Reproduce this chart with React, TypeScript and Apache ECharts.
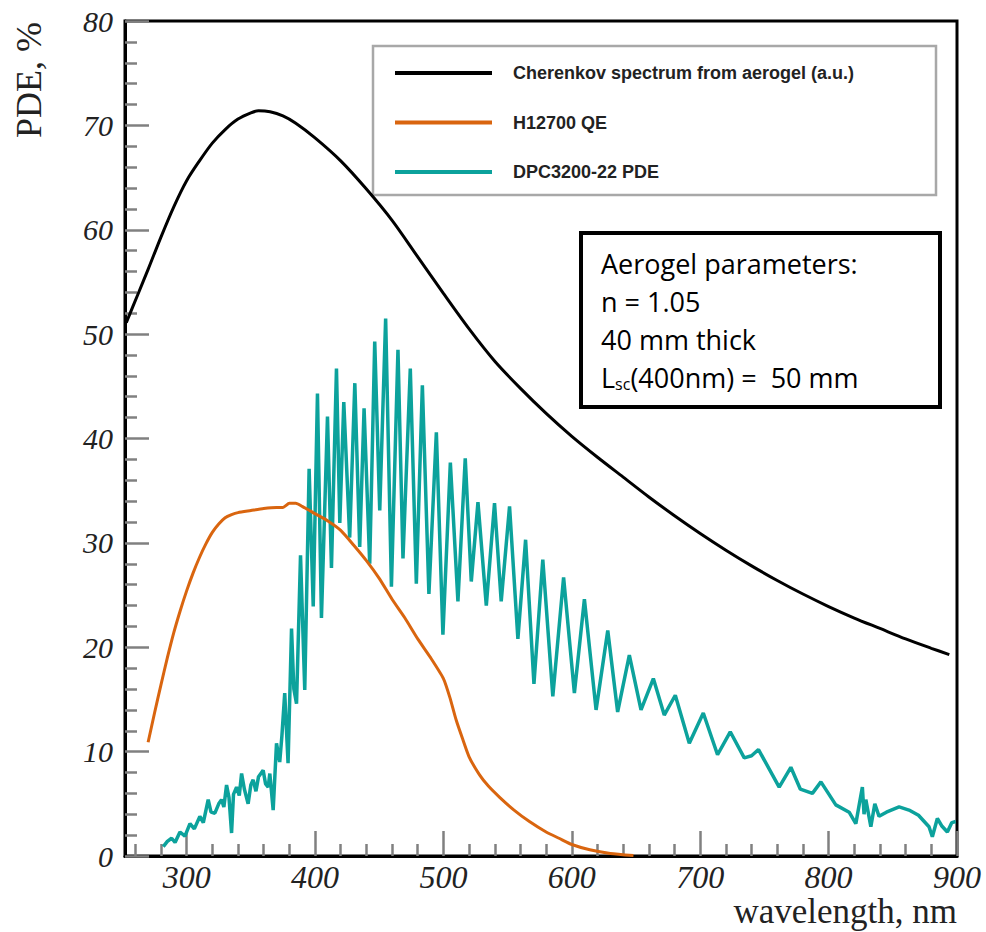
import React, { useEffect, useRef } from "react";
import * as echarts from "echarts";

// ---- axis ticks ----
const xMajor = [300, 400, 500, 600, 700, 800, 900];
const xMinor = [260, 280, 320, 340, 360, 380, 420, 440, 460, 480, 520, 540, 560, 580, 620, 640, 660, 680, 720, 740, 760, 780, 820, 840, 860, 880];

// ---- series names ----
const seriesNames = ["Cherenkov spectrum from aerogel (a.u.)", "H12700 QE", "DPC3200-22 PDE"];

// ---- Cherenkov spectrum (a.u.) ----
const cherenkovWl = [253, 262, 270, 280, 290, 300, 310, 320, 330, 340, 350, 356, 365, 375, 385, 400, 420, 440, 460, 480, 500, 520, 540, 560, 580, 600, 620, 640, 660, 680, 700, 720, 740, 760, 780, 800, 820, 840, 860, 880, 894];
const cherenkovVal = [51.1, 53.8, 56.2, 59.3, 62.2, 64.7, 66.6, 68.3, 69.6, 70.6, 71.2, 71.4, 71.3, 70.9, 70.2, 68.8, 66.6, 63.9, 60.9, 57.4, 53.9, 50.5, 47.4, 44.8, 42.4, 40.2, 38.2, 36.3, 34.4, 32.6, 30.9, 29.3, 27.8, 26.4, 25.1, 23.9, 22.8, 21.8, 20.8, 19.9, 19.3];

// ---- H12700 QE ----
const h12700Wl = [270, 275, 280, 285, 290, 295, 300, 305, 310, 315, 320, 325, 330, 335, 340, 350, 360, 370, 375, 380, 385, 390, 400, 410, 420, 430, 440, 450, 460, 470, 480, 490, 500, 505, 510, 515, 520, 528, 535, 544, 555, 567, 580, 590, 600, 614, 630, 648];
const h12700Val = [10.9, 13.7, 16.4, 19.0, 21.4, 23.5, 25.4, 27.1, 28.6, 29.9, 31.0, 31.8, 32.4, 32.7, 32.9, 33.1, 33.3, 33.4, 33.4, 33.8, 33.8, 33.5, 32.8, 32.1, 31.2, 29.8, 28.3, 26.6, 24.6, 22.8, 20.8, 19.0, 17.0, 15.2, 13.0, 11.2, 9.5, 7.8, 6.7, 5.6, 4.4, 3.3, 2.3, 1.7, 1.1, 0.6, 0.25, 0.05];

// ---- DPC3200-22 PDE ----
const dpcWl = [281.8, 285, 288.3, 291, 294.8, 298.7, 302.6, 306, 310.3, 313, 316.8, 319, 322, 325, 327.2, 329, 331.1, 333, 335, 336.5, 338.9, 341, 342.8, 345, 347.9, 350, 351.8, 354, 356, 359.6, 361.5, 363.5, 364.8, 367.4, 370, 372.5, 374.2, 376.4, 379, 381.7, 383.5, 385.6, 388.7, 392, 395.4, 398.6, 401.9, 405, 409.7, 412.8, 416.7, 419.3, 422.4, 427, 431, 434.8, 438.2, 442.6, 446.5, 450.4, 455, 459.5, 464.6, 468.5, 474.2, 478.9, 483.6, 488.7, 494.5, 499.6, 505.4, 511.3, 517, 521.7, 526.9, 533.4, 539.8, 545, 551.5, 558, 564, 570.5, 577.4, 585.2, 593.6, 602, 609.8, 618.9, 628, 635.7, 644.8, 653.9, 663.5, 672, 680.6, 691.5, 702.4, 713.5, 723.4, 734.3, 740, 745.4, 761.5, 770.6, 778, 787.4, 794, 805.6, 816, 821.2, 826.3, 827.6, 829, 832.9, 836, 839.3, 845, 854.9, 862.6, 870, 878.2, 880.8, 884.7, 888, 892.5, 896, 899];
const dpcVal = [0.9, 1.4, 1.7, 1.3, 2.3, 1.9, 3.1, 2.6, 3.8, 3.2, 5.4, 4.2, 4.1, 5.0, 5.4, 4.7, 6.8, 5.6, 2.2, 5.9, 6.6, 5.8, 7.9, 6.4, 5.0, 6.8, 7.3, 6.2, 7.6, 8.2, 6.9, 6.6, 7.9, 4.4, 10.8, 9.0, 11.5, 15.6, 8.9, 21.8, 16.0, 14.6, 28.8, 15.9, 37.1, 23.9, 44.3, 22.8, 42.1, 27.6, 46.7, 31.9, 43.5, 30.5, 45.3, 29.6, 42.9, 28.0, 49.3, 33.1, 51.5, 25.8, 48.5, 28.5, 46.7, 26.1, 45.1, 25.1, 40.6, 21.2, 37.7, 24.4, 38.1, 26.3, 33.9, 24.0, 33.8, 24.4, 33.5, 20.8, 30.3, 16.5, 28.4, 15.3, 26.7, 15.6, 24.6, 14.0, 21.6, 13.8, 19.25, 14.0, 17.0, 13.5, 15.4, 10.8, 13.7, 9.7, 11.9, 9.4, 9.6, 10.2, 6.6, 8.5, 6.4, 6.0, 7.1, 4.9, 4.2, 3.1, 6.6, 4.0, 5.4, 2.8, 5.0, 3.8, 4.2, 4.7, 4.4, 3.9, 2.8, 1.85, 3.6, 2.9, 2.3, 3.2, 3.3];

const zip = (xs: number[], ys: number[]) => xs.map((x, i) => [x, ys[i]]);

const tickColor = "#808080";

export default function App() {
  const ref = useRef<HTMLDivElement>(null);

  useEffect(() => {
    if (!ref.current) return;
    const chart = echarts.init(ref.current, null, { renderer: "svg" });
    const tickLine = { color: tickColor, width: 2.5 };
    const option: any = {
      animation: false,
      backgroundColor: "#ffffff",
      grid: { left: 125, right: 29, top: 21, bottom: 76, show: true, borderColor: "#000", borderWidth: 3, backgroundColor: "transparent" },
      xAxis: [
        {
          type: "value", min: 252, max: 900, position: "bottom",
          axisLine: { show: true, lineStyle: { color: "#000", width: 3 } },
          axisTick: { show: true, inside: true, length: 25, customValues: xMajor, lineStyle: tickLine },
          axisLabel: { customValues: xMajor, fontFamily: "Liberation Serif", fontStyle: "italic", fontSize: 32, color: "#222", margin: 5 },
          splitLine: { show: false },
        },
        {
          type: "value", min: 252, max: 900, position: "bottom",
          axisLine: { show: false },
          axisTick: { show: true, inside: true, length: 12, customValues: xMinor, lineStyle: tickLine },
          axisLabel: { show: false },
          splitLine: { show: false },
        },
      ],
      yAxis: {
        type: "value", min: 0, max: 80, interval: 10,
        axisLine: { show: true, lineStyle: { color: "#000", width: 3 } },
        axisTick: { show: true, inside: true, length: 24, lineStyle: tickLine },
        minorTick: { show: true, splitNumber: 5, length: 12, lineStyle: tickLine },
        axisLabel: { fontFamily: "Liberation Serif", fontStyle: "italic", fontSize: 30, color: "#222", margin: 12 },
        splitLine: { show: false },
        minorSplitLine: { show: false },
      },
      legend: {
        orient: "vertical", left: 395, top: 63, padding: 0,
        itemWidth: 97, itemHeight: 4, itemGap: 29.5, icon: "rect",
        textStyle: { fontFamily: "Liberation Sans", fontWeight: "bold", fontSize: 18, color: "#222", lineHeight: 20, padding: [0, 0, 0, 16] },
        data: seriesNames,
      },
      graphic: [
        { type: "rect", z: 0, shape: { x: 373, y: 46, width: 563, height: 149 }, style: { fill: "transparent", stroke: "#a8a8a8", lineWidth: 2.5 } },
        { type: "rect", z: 10, shape: { x: 581, y: 233, width: 359, height: 174 }, style: { fill: "#fff", stroke: "#000", lineWidth: 4 } },
        { type: "text", z: 11, x: 601, y: 263, style: { text: "Aerogel parameters:", fontFamily: "Open Sans", fontSize: 27, fill: "#000", verticalAlign: "middle" } },
        { type: "text", z: 11, x: 601, y: 301, style: { text: "n = 1.05", fontFamily: "Open Sans", fontSize: 27, fill: "#000", verticalAlign: "middle" } },
        { type: "text", z: 11, x: 601, y: 339, style: { text: "40 mm thick", fontFamily: "Open Sans", fontSize: 27, fill: "#000", verticalAlign: "middle" } },
        {
          type: "text", z: 11, x: 601, y: 377,
          style: {
            text: "{m|L}{s|sc}{m|(400nm) =  50 mm}", verticalAlign: "middle",
            rich: {
              m: { fontFamily: "Open Sans", fontSize: 27, fill: "#000", color: "#000" },
              s: { fontFamily: "Open Sans", fontSize: 16, fill: "#000", color: "#000", padding: [14, 0, 0, 0] },
            },
          },
        },
        { type: "text", z: 11, x: 29, y: 80, rotation: Math.PI / 2, style: { text: "PDE, %", fontFamily: "Liberation Serif", fontSize: 36, fill: "#222", align: "center", verticalAlign: "middle" } },
        { type: "text", z: 11, x: 957, y: 911, style: { text: "wavelength, nm", fontFamily: "Liberation Serif", fontSize: 35, fill: "#222", align: "right", verticalAlign: "middle" } },
      ],
      series: [
        { name: seriesNames[0], type: "line", z: 4, data: zip(cherenkovWl, cherenkovVal), showSymbol: false, smooth: 0.3, lineStyle: { color: "#000", width: 3 }, itemStyle: { color: "#000" } },
        { name: seriesNames[1], type: "line", z: 3, data: zip(h12700Wl, h12700Val), showSymbol: false, smooth: 0.2, lineStyle: { color: "#d9650f", width: 3 }, itemStyle: { color: "#d9650f" } },
        { name: seriesNames[2], type: "line", z: 2, data: zip(dpcWl, dpcVal), showSymbol: false, smooth: false, lineStyle: { color: "#0ca29c", width: 3.5 }, itemStyle: { color: "#0ca29c" } },
      ],
    };
    chart.setOption(option);
    return () => chart.dispose();
  }, []);

  return <div ref={ref} style={{ position: "fixed", left: 0, top: 0, width: 986, height: 932 }} />;
}
